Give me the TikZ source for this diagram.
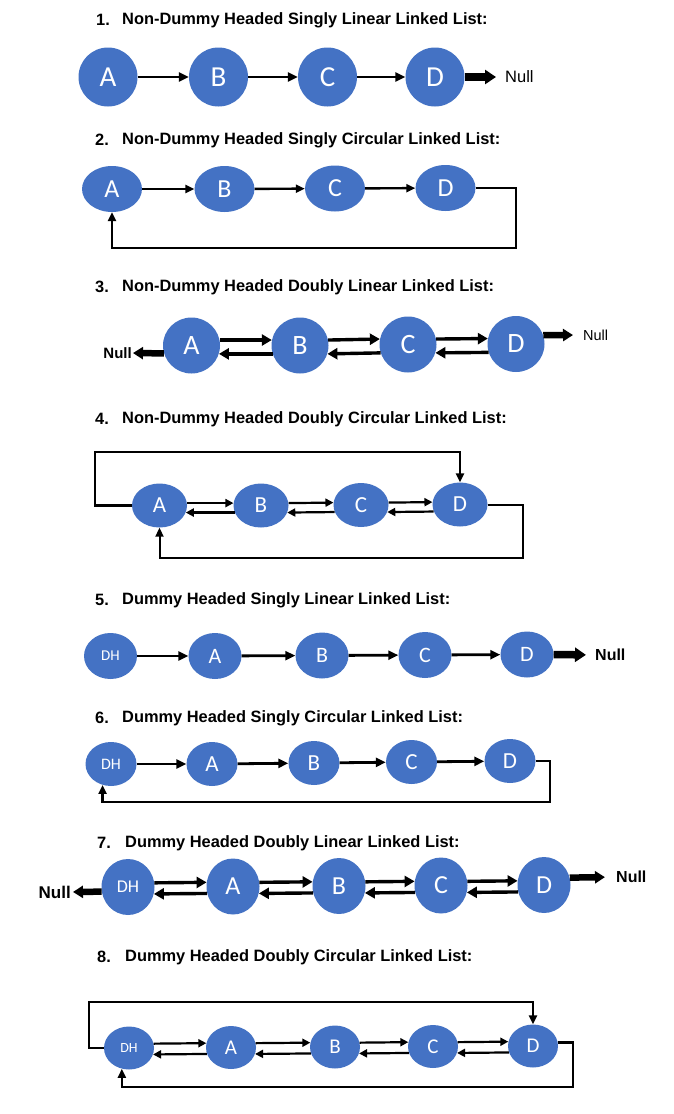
\documentclass[tikz,border=0pt]{standalone}
\usepackage{fontspec}
\setmainfont{Liberation Sans}
\newfontfamily\calfont{Carlito}
\usetikzlibrary{shapes.geometric,arrows.meta}
\definecolor{nblue}{HTML}{4472C4}
\begin{document}
\begin{tikzpicture}[x=1pt,y=-1pt,
  nd/.style 2 args={ellipse, fill=nblue, draw=none, text=white, inner sep=0pt,
    minimum width=#1pt, minimum height=#2pt},
  lt/.style={font=\calfont\fontsize{#1}{#1}\selectfont},
  ttl/.style={anchor=west, inner sep=0pt, font=\bfseries\fontsize{16.4}{18}\selectfont},
  nulr/.style={inner sep=0pt, font=\fontsize{#1}{#1}\selectfont},
  nulb/.style={inner sep=0pt, font=\bfseries\fontsize{#1}{#1}\selectfont},
  sa/.style={line width=2.8pt, -{Triangle[length=10pt,width=9pt]}},
  sb/.style={line width=2.4pt, -{Triangle[length=9pt,width=8pt]}},
  da/.style={line width=3.4pt, -{Triangle[length=10pt,width=11pt]}},
  db/.style={line width=2.2pt, -{Triangle[length=8pt,width=8pt]}},
  lp/.style={line width=2.6pt, -{Triangle[length=9pt,width=8pt]}},
  lpt/.style={line width=2pt, -{Triangle[length=9pt,width=8pt]}},
  na/.style={line width=7.5pt, -{Triangle[length=11pt,width=14pt]}},
  nb/.style={line width=6.5pt, -{Triangle[length=10pt,width=12pt]}}
]
\fill[white] (0,0) rectangle (674,1114);
\path[use as bounding box] (0,0) rectangle (674,1114);

% ---------- 1 ----------
\node[ttl] (n1) at (96,20) {1.};
\node[ttl] (t1) at (122,20) {Non-Dummy Headed Singly Linear Linked List:};
\node[nd={59}{59}, lt=29] (A1) at (108,77) {A};
\node[nd={59}{59}, lt=29] (B1) at (218.5,77) {B};
\node[nd={59}{59}, lt=29] (C1) at (327.5,77) {C};
\node[nd={59}{59}, lt=29] (D1) at (435,77) {D};
\node[nulr=16.5, anchor=west] (N1) at (505,77) {Null};
\draw[sa] (A1) -- (B1);
\draw[sa] (B1) -- (C1);
\draw[sa] (C1) -- (D1);
\draw[na, shorten >=9pt] (D1.east) -- (N1.west);

% ---------- 2 ----------
\node[ttl] (n2) at (95,140) {2.};
\node[ttl] (t2) at (122,140) {Non-Dummy Headed Singly Circular Linked List:};
\node[nd={60}{46}, lt=26] (A2) at (112,189) {A};
\node[nd={60}{46}, lt=26] (B2) at (224.5,189) {B};
\node[nd={60}{46}, lt=26] (C2) at (335,188.5) {C};
\node[nd={60}{46}, lt=26] (D2) at (445.5,188) {D};
\coordinate (L2) at (516,248);
\draw[sb] (A2) -- (B2);
\draw[sb] (B2) -- (C2);
\draw[sb] (C2) -- (D2);
\draw[lp] (D2.east) -| (L2) -| (A2.south);

% ---------- 3 ----------
\node[ttl] (n3) at (95,287) {3.};
\node[ttl] (t3) at (122,287) {Non-Dummy Headed Doubly Linear Linked List:};
\node[nd={57}{56}, lt=28] (A3) at (191.5,345.5) {A};
\node[nd={57}{56}, lt=28] (B3) at (300,345.5) {B};
\node[nd={57}{56}, lt=28] (C3) at (408,344.5) {C};
\node[nd={57}{56}, lt=28] (D3) at (516,344) {D};
\node[nulb=15, anchor=east] (N3l) at (132,353) {Null};
\node[nulr=14.5, anchor=west] (N3r) at (583,335) {Null};
\draw[da] (A3.11) -- (B3.169);
\draw[da] (B3.197) -- (A3.-17);
\draw[da] (B3.11) -- (C3.169);
\draw[da] (C3.197) -- (B3.-17);
\draw[da] (C3.11) -- (D3.169);
\draw[da] (D3.197) -- (C3.-17);
\draw[nb, shorten >=1pt] (A3.196) -- (N3l.east);
\draw[nb, shorten >=10pt] (D3.18) -- (N3r.west);

% ---------- 4 ----------
\node[ttl] (n4) at (95,419) {4.};
\node[ttl] (t4) at (122,419) {Non-Dummy Headed Doubly Circular Linked List:};
\node[nd={55}{44}, lt=23] (A4) at (159.5,505.5) {A};
\node[nd={55}{44}, lt=23] (B4) at (261,505.5) {B};
\node[nd={55}{44}, lt=23] (C4) at (361,505) {C};
\node[nd={55}{44}, lt=23] (D4) at (460,504.5) {D};
\coordinate (T4) at (95,452);
\coordinate (L4) at (523,558);
\draw[db] (A4.5) -- (B4.175);
\draw[db] (B4.195) -- (A4.-15);
\draw[db] (B4.5) -- (C4.175);
\draw[db] (C4.195) -- (B4.-15);
\draw[db] (C4.5) -- (D4.175);
\draw[db] (D4.195) -- (C4.-15);
\draw[lp] (A4.west) -| (T4) -| (D4.north);
\draw[lpt] (D4.east) -| (L4) -| (A4.south);

% ---------- 5 ----------
\node[ttl] (n5) at (95,600) {5.};
\node[ttl] (t5) at (122,600) {Dummy Headed Singly Linear Linked List:};
\node[nd={53}{46}, lt=15] (H5) at (110.5,656) {DH};
\node[nd={53}{46}, lt=22] (A5) at (215,656) {A};
\node[nd={53}{46}, lt=22] (B5) at (322,655.5) {B};
\node[nd={53}{46}, lt=22] (C5) at (425,655) {C};
\node[nd={53}{46}, lt=22] (D5) at (527,654.5) {D};
\node[nulb=16, anchor=west] (N5) at (595,655) {Null};
\draw[sa] (H5) -- (A5);
\draw[sa] (A5) -- (B5);
\draw[sa] (B5) -- (C5);
\draw[sa] (C5) -- (D5);
\draw[na, shorten >=9pt] (D5.east) -- (N5.west);

% ---------- 6 ----------
\node[ttl] (n6) at (95,718) {6.};
\node[ttl] (t6) at (122,718) {Dummy Headed Singly Circular Linked List:};
\node[nd={51}{44}, lt=16] (H6) at (111,764) {DH};
\node[nd={51}{44}, lt=23] (A6) at (212,764) {A};
\node[nd={51}{44}, lt=23] (B6) at (314,763) {B};
\node[nd={51}{44}, lt=23] (C6) at (411.5,762) {C};
\node[nd={51}{44}, lt=23] (D6) at (510,761) {D};
\coordinate (L6) at (550,802);
\draw[sa] (H6) -- (A6);
\draw[sa] (A6) -- (B6);
\draw[sa] (B6) -- (C6);
\draw[sa] (C6) -- (D6);
\draw[lp] (D6.east) -| (L6) -| (H6.248);

% ---------- 7 ----------
\node[ttl] (n7) at (97,843) {7.};
\node[ttl] (t7) at (125,843) {Dummy Headed Doubly Linear Linked List:};
\node[nd={53}{56}, lt=18] (H7) at (128,887) {DH};
\node[nd={53}{56}, lt=26] (A7) at (233,886.5) {A};
\node[nd={53}{56}, lt=26] (B7) at (339,886) {B};
\node[nd={53}{56}, lt=26] (C7) at (441,885.5) {C};
\node[nd={53}{56}, lt=26] (D7) at (544,885) {D};
\node[nulb=17, anchor=east] (N7l) at (71,892) {Null};
\node[nulb=16, anchor=west] (N7r) at (616,877) {Null};
\draw[da] (H7.9) -- (A7.171);
\draw[da] (A7.195) -- (H7.-15);
\draw[da] (A7.9) -- (B7.171);
\draw[da] (B7.195) -- (A7.-15);
\draw[da] (B7.9) -- (C7.171);
\draw[da] (C7.195) -- (B7.-15);
\draw[da] (C7.9) -- (D7.171);
\draw[da] (D7.195) -- (C7.-15);
\draw[nb, shorten >=2pt] (H7.190) -- (N7l.east);
\draw[nb, shorten >=11pt] (D7.16) -- (N7r.west);

% ---------- 8 ----------
\node[ttl] (n8) at (97,957) {8.};
\node[ttl] (t8) at (125,957) {Dummy Headed Doubly Circular Linked List:};
\node[nd={50}{43}, lt=14] (H8) at (129,1048) {DH};
\node[nd={50}{43}, lt=21] (A8) at (231,1047.5) {A};
\node[nd={50}{43}, lt=21] (B8) at (335,1047) {B};
\node[nd={50}{43}, lt=21] (C8) at (433,1046.5) {C};
\node[nd={50}{43}, lt=21] (D8) at (533,1046) {D};
\coordinate (T8) at (89,1002);
\coordinate (L8) at (573,1087);
\draw[db] (H8.10) -- (A8.170);
\draw[db] (A8.195) -- (H8.-15);
\draw[db] (A8.10) -- (B8.170);
\draw[db] (B8.195) -- (A8.-15);
\draw[db] (B8.10) -- (C8.170);
\draw[db] (C8.195) -- (B8.-15);
\draw[db] (C8.10) -- (D8.170);
\draw[db] (D8.195) -- (C8.-15);
\draw[lp] (H8.west) -| (T8) -| (D8.north);
\draw[lp] (D8.8) -| (L8) -| (H8.251);
\end{tikzpicture}
\end{document}
